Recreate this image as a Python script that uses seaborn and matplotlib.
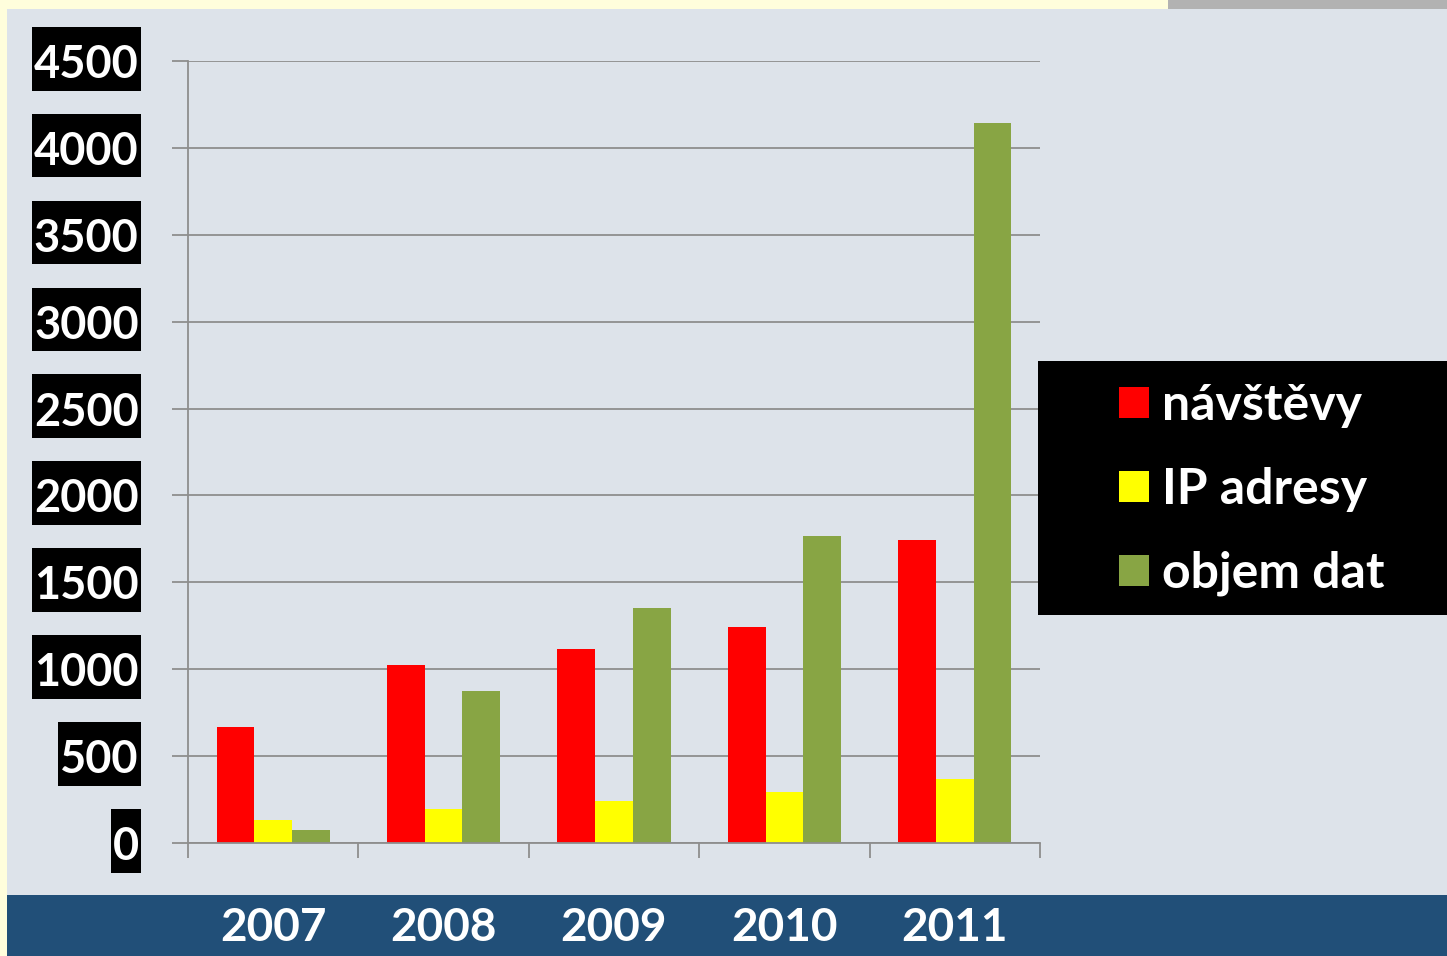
import matplotlib
matplotlib.use("Agg")
import matplotlib.pyplot as plt
import seaborn as sns
import pandas as pd
from matplotlib.patches import Rectangle, Patch
from matplotlib.path import Path

years = ["2007", "2008", "2009", "2010", "2011"]
series = ["návštěvy", "IP adresy", "objem dat"]
navstevy = [667, 1024, 1116, 1243, 1743]
ip_adresy = [132, 196, 242, 293, 368]
objem_dat = [75, 875, 1352, 1766, 4143]
colors = ["#ff0000", "#ffff00", "#88a544"]

df = pd.DataFrame({
    "rok": years * 3,
    "serie": [series[0]] * 5 + [series[1]] * 5 + [series[2]] * 5,
    "hodnota": navstevy + ip_adresy + objem_dat,
})

W, H = 1447, 956
fig = plt.figure(figsize=(W / 100, H / 100), dpi=100)
fig.patch.set_facecolor("#fffedc")

# background blocks (figure pixel coords -> fractions)
def rect(x0, y0, x1, y1, color, z=-1):
    fig.patches.append(Rectangle((x0 / W, 1 - y1 / H), (x1 - x0) / W, (y1 - y0) / H,
                                 transform=fig.transFigure, facecolor=color,
                                 edgecolor="none", zorder=z))

rect(1168, 0, W, 9, "#b2b2b2")
rect(7, 9, W, 895, "#dde3ea")
rect(7, 895, W, H, "#214f78")
rect(1038, 361, W, 615, "#000000", z=3)


# black label box: thin at the sides, tall above/below
def tall_box(x0, y0, width, height, mutation_size):
    px = 0.04 * mutation_size
    a, b = x0 - px, y0 - 0.1 * mutation_size
    c, d = x0 + width + px, y0 + height + 0.38 * mutation_size
    return Path([(a, b), (c, b), (c, d), (a, d), (a, b)], closed=True)


ax = fig.add_axes([188 / W, 1 - 843 / H, (1040 - 188) / W, (843 - 61) / H])
ax.set_facecolor("none")
ax.set_zorder(2)

sns.barplot(data=df, x="rok", y="hodnota", hue="serie", palette=colors,
            saturation=1, width=0.665, gap=0, ax=ax, legend=False)

gray = "#8e8e8e"
ax.set_ylim(0, 4500)
ax.set_xlim(-0.5, 4.5)
ax.set_yticks(range(0, 4501, 500))
ax.yaxis.grid(True, color=gray, lw=1.3)
ax.set_axisbelow(True)
for s in ["top", "right"]:
    ax.spines[s].set_visible(False)
for s in ["left", "bottom"]:
    ax.spines[s].set_color(gray)
    ax.spines[s].set_linewidth(1.3)
ax.set_xlabel("")
ax.set_ylabel("")

font = "Lato"
ax.tick_params(axis="y", length=11.5, width=1.3, color=gray, pad=24,
               labelsize=32.5, labelcolor="white")
for lbl in ax.get_yticklabels():
    lbl.set_fontfamily(font)
    lbl.set_fontweight("bold")
    lbl.set_bbox(dict(facecolor="black", edgecolor="none", boxstyle=tall_box))

ax.set_xticks(range(5))
ax.set_xticklabels(years)
ax.set_xticks([i - 0.5 for i in range(6)], minor=True)
ax.tick_params(axis="x", which="major", length=0, pad=46, labelsize=33,
               labelcolor="white")
ax.tick_params(axis="x", which="minor", length=11, width=1.3, color=gray)
for lbl in ax.get_xticklabels():
    lbl.set_fontfamily(font)
    lbl.set_fontweight("bold")

handles = [Patch(facecolor=c, edgecolor="none") for c in colors]
leg = fig.legend(handles, series, loc="upper left",
                 bbox_to_anchor=(1074 / W, 1 - 338 / H), frameon=False,
                 prop={"family": font, "weight": "bold", "size": 36},
                 handlelength=0.6, handleheight=0.6, handletextpad=0.26,
                 labelspacing=0.78)
for t in leg.get_texts():
    t.set_color("white")
leg.set_zorder(5)

fig.savefig("out.png", dpi=100, facecolor=fig.get_facecolor())
